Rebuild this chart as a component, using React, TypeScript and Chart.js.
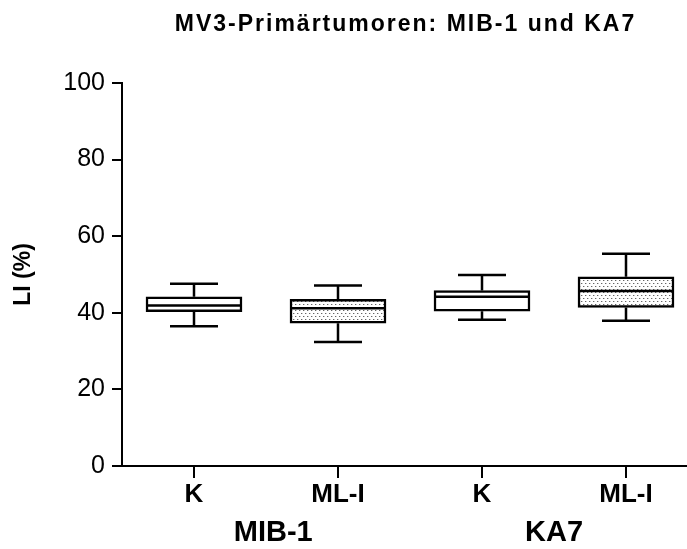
import React, { useEffect, useRef } from 'react';
import { Chart, registerables } from 'chart.js';

Chart.register(...registerables);

const categories = ['K', 'ML-I', 'K', 'ML-I'];
const groups = ['MIB-1', 'KA7'];
const groupPositions = [1.55, 3.5];
const whiskerLow = [36.5, 32.4, 38.2, 37.9];
const q1 = [40.3, 37.3, 40.4, 41.4];
const median = [41.9, 41.2, 44.2, 45.7];
const q3 = [44.2, 43.5, 45.8, 49.4];
const whiskerHigh = [47.6, 47.1, 49.9, 55.4];
const patterned = [false, true, false, true];
const yTicks = [0, 20, 40, 60, 80, 100];
const titleText = 'MV3-Primärtumoren: MIB-1 und KA7';
const yTitle = 'LI (%)';

const FONT = "'Liberation Sans', Arial, Helvetica, sans-serif";

function makePattern(): CanvasPattern | string {
  const c = document.createElement('canvas');
  c.width = 4;
  c.height = 6;
  const g = c.getContext('2d');
  if (!g) return '#ddd';
  g.fillStyle = '#fff';
  g.fillRect(0, 0, 4, 6);
  g.fillStyle = '#666';
  g.fillRect(1, 1, 1, 1);
  g.fillRect(3, 4, 1, 1);
  g.fillStyle = '#ccc';
  g.fillRect(2, 1, 1, 1);
  g.fillRect(0, 4, 1, 1);
  const p = g.createPattern(c, 'repeat');
  return p || '#ddd';
}

export default function App() {
  const ref = useRef<HTMLCanvasElement | null>(null);

  useEffect(() => {
    document.body.style.margin = '0';
    const canvas = ref.current;
    if (!canvas) return;
    const pattern = makePattern();
    const BOX_W = 96;
    const LW = 2.5;

    const drawPlugin = {
      id: 'boxExtras',
      afterDatasetsDraw(chart: any) {
        const ctx = chart.ctx;
        const xs = chart.scales.x;
        const ys = chart.scales.y;
        ctx.save();
        ctx.strokeStyle = '#000';
        ctx.lineWidth = LW;
        ctx.lineCap = 'butt';
        categories.forEach((_, i) => {
          const x = xs.getPixelForValue(i + 1);
          const half = BOX_W / 2;
          const cap = BOX_W / 4;
          const yMed = ys.getPixelForValue(median[i]);
          const yQ1 = ys.getPixelForValue(q1[i]);
          const yQ3 = ys.getPixelForValue(q3[i]);
          const yLo = ys.getPixelForValue(whiskerLow[i]);
          const yHi = ys.getPixelForValue(whiskerHigh[i]);
          ctx.beginPath();
          ctx.moveTo(x - half, yMed);
          ctx.lineTo(x + half, yMed);
          ctx.moveTo(x, yQ3);
          ctx.lineTo(x, yHi);
          ctx.moveTo(x - cap, yHi);
          ctx.lineTo(x + cap, yHi);
          ctx.moveTo(x, yQ1);
          ctx.lineTo(x, yLo);
          ctx.moveTo(x - cap, yLo);
          ctx.lineTo(x + cap, yLo);
          ctx.stroke();
        });
        ctx.restore();
      },
      afterDraw(chart: any) {
        const ctx = chart.ctx;
        const xs = chart.scales.x;
        const area = chart.chartArea;
        ctx.save();
        ctx.fillStyle = '#000';
        ctx.textAlign = 'center';
        ctx.textBaseline = 'middle';
        ctx.font = `bold 23px ${FONT}`;
        try { (ctx as any).letterSpacing = '2px'; } catch (e) {}
        ctx.fillText(titleText, (area.left + area.right) / 2 + 1, 25);
        try { (ctx as any).letterSpacing = '0px'; } catch (e) {}
        ctx.font = `bold 29px ${FONT}`;
        groups.forEach((g, j) => {
          ctx.fillText(g, xs.getPixelForValue(groupPositions[j]), 533);
        });
        ctx.restore();
      },
    };

    const chart = new Chart(canvas, {
      type: 'bar',
      data: {
        datasets: [
          {
            data: categories.map((_, i) => ({ x: i + 1, y: [q1[i], q3[i]] })) as any,
            backgroundColor: patterned.map((p) => (p ? pattern : '#fff')) as any,
            borderColor: '#000',
            borderWidth: LW,
            borderSkipped: false,
            barThickness: BOX_W,
          },
        ],
      },
      options: {
        animation: false,
        responsive: false,
        maintainAspectRatio: false,
        layout: { padding: { top: 83, left: 0, right: 0, bottom: 0 } },
        plugins: {
          legend: { display: false },
          tooltip: { enabled: false },
          title: { display: false },
        },
        scales: {
          x: {
            type: 'linear',
            min: 0.5,
            max: 4.4236,
            offset: false,
            afterBuildTicks: (s: any) => {
              s.ticks = categories.map((_, i) => ({ value: i + 1 }));
            },
            afterFit: (s: any) => {
              s.height = 83;
            },
            ticks: {
              callback: (_v: any, idx: number) => categories[idx],
              font: { family: FONT, size: 26, weight: 'bold' },
              color: '#000',
              padding: 1,
              maxRotation: 0,
              autoSkip: false,
            },
            grid: {
              display: true,
              offset: false,
              drawOnChartArea: false,
              drawTicks: true,
              tickLength: 12,
              color: '#000',
              lineWidth: 2,
            },
            border: { display: true, color: '#000', width: 2 },
          },
          y: {
            type: 'linear',
            min: 0,
            max: 100,
            afterBuildTicks: (s: any) => {
              s.ticks = yTicks.map((v) => ({ value: v }));
            },
            afterFit: (s: any) => {
              s.width = 122;
            },
            ticks: {
              font: { family: FONT, size: 25 },
              color: '#000',
              padding: 7,
            },
            grid: {
              display: true,
              drawOnChartArea: false,
              drawTicks: true,
              tickLength: 10,
              color: '#000',
              lineWidth: 2,
            },
            border: { display: true, color: '#000', width: 2 },
            title: {
              display: true,
              text: yTitle,
              font: { family: FONT, size: 23, weight: 'bold' },
              color: '#000',
              padding: { top: 10, bottom: 0 },
            },
          },
        },
      } as any,
      plugins: [drawPlugin],
    });

    return () => {
      chart.destroy();
    };
  }, []);

  return (
    <div style={{ width: 687, height: 549, position: 'relative' }}>
      <canvas ref={ref} width={687} height={549} style={{ display: 'block' }} />
    </div>
  );
}
